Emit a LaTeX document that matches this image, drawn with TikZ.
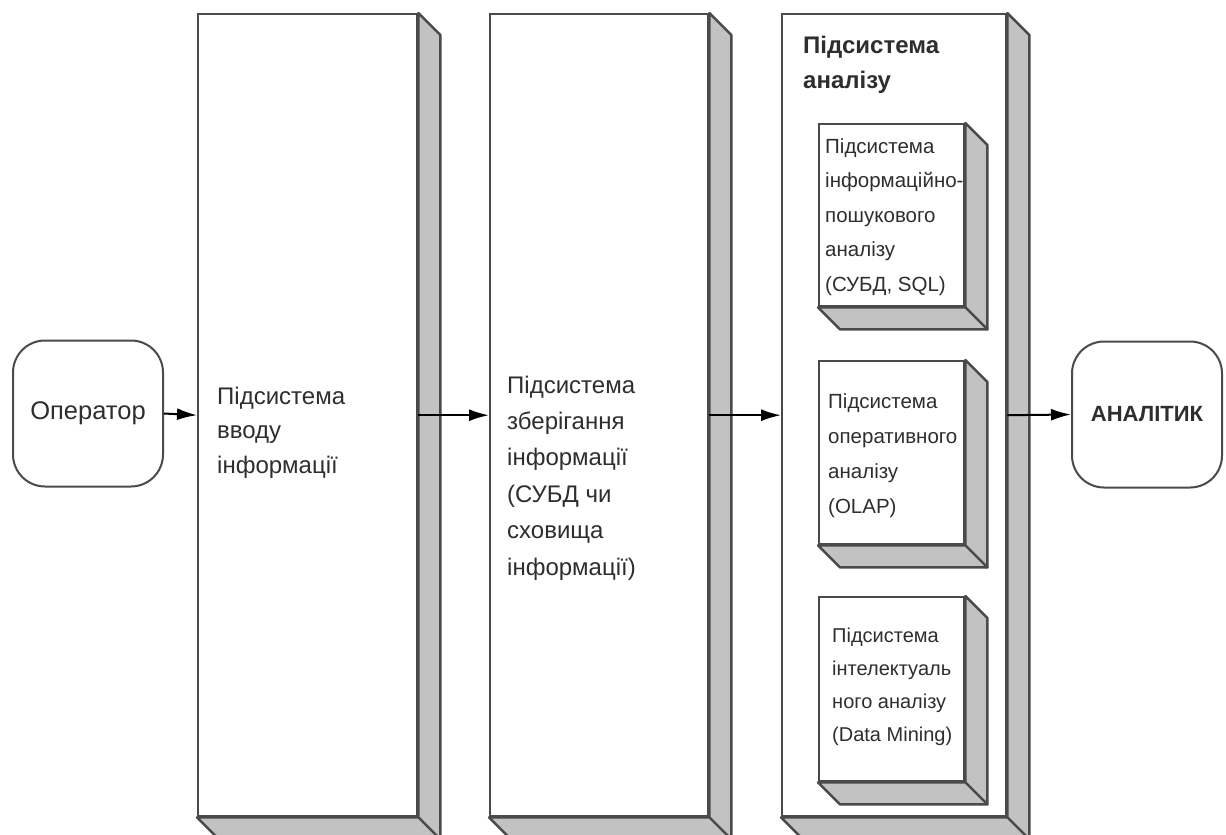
\documentclass[tikz,border=0pt]{standalone}
\usepackage{fontspec}
\setmainfont{Liberation Sans}
\usetikzlibrary{arrows.meta,calc}
\definecolor{edge}{HTML}{4A4A4A}
\definecolor{side}{HTML}{C2C2C2}
\definecolor{ink}{HTML}{2E2E2E}
\tikzset{
  face/.style={draw=edge, line width=2.4pt, fill=white, inner sep=0pt, anchor=north west},
  depthface/.style={draw=edge, line width=2.4pt, fill=side, line join=round},
  actor/.style={draw=edge, line width=2pt, rounded corners=32pt, fill=white, minimum width=150pt, minimum height=146pt, inner sep=0pt, text=ink},
  bigtext/.style={anchor=north west, inner sep=0pt, align=left, text=ink, font=\fontsize{24}{34.5}\selectfont},
  smalltext/.style={anchor=north west, inner sep=0pt, align=left, text=ink, font=\fontsize{20.5}{34.5}\selectfont},
  arr/.style={draw=black, line width=2pt, -{Latex[length=20pt,width=12pt]}}
}
\newcommand\boxdepth[1]{%
  \draw[depthface] (#1.north east) -- ++(22,22) -- ($(#1.south east)+(22,22)$) -- (#1.south east) -- cycle;
  \draw[depthface] (#1.south west) -- (#1.south east) -- ++(22,22) -- ($(#1.south west)+(22,22)$) -- cycle;
}
\begin{document}
\begin{tikzpicture}[x=1pt,y=-1pt]
\useasboundingbox (0,0) rectangle (1226,835);
\fill[white] (0,0) rectangle (1226,835);
% outer boxes
\node[face, minimum width=219pt, minimum height=802pt] (b1) at (197,13) {};
\boxdepth{b1}
\node[face, minimum width=218pt, minimum height=802pt] (b2) at (489,13) {};
\boxdepth{b2}
\node[face, minimum width=224pt, minimum height=802pt] (b3) at (781,13) {};
\boxdepth{b3}
% inner boxes
\node[face, minimum width=145pt, minimum height=182pt] (s1) at (818,123) {};
\boxdepth{s1}
\node[face, minimum width=145pt, minimum height=183pt] (s2) at (818,360) {};
\boxdepth{s2}
\node[face, minimum width=145pt, minimum height=184pt] (s3) at (818,596) {};
\boxdepth{s3}
% texts
\node[bigtext] (t1) at (217,386.5) {Підсистема\\вводу\\інформації};
\node[bigtext, font=\fontsize{24}{36.4}\selectfont] (t2) at (507,375.5) {Підсистема\\зберігання\\інформації\\(СУБД чи\\сховища\\інформації)};
\node[bigtext, font=\fontsize{24}{35}\bfseries] (t3) at (803,36) {Підсистема\\аналізу};
\node[smalltext] (ts1) at (825,138) {Підсистема\\інформаційно-\\пошукового\\аналізу\\(СУБД, SQL)};
\node[smalltext, font=\fontsize{20.5}{35}\selectfont] (ts2) at (828,393) {Підсистема\\оперативного\\аналізу\\(OLAP)};
\node[smalltext, font=\fontsize{20}{33}\selectfont] (ts3) at (832,628) {Підсистема\\інтелектуаль\\ного аналізу\\(Data Mining)};
% actors
\node[actor, font=\fontsize{25.5}{30}\selectfont] (op) at (88,413.5) {Оператор};
\node[actor, font=\fontsize{22}{26}\bfseries] (an) at (1147,414.5) {АНАЛІТИК};
% arrows
\draw[arr] (op.east) -- (b1.west);
\draw[arr] (b1.east) -- (b2.west);
\draw[arr] (b2.east) -- (b3.west);
\draw[arr] (b3.east) -- (an.west);
\end{tikzpicture}
\end{document}
